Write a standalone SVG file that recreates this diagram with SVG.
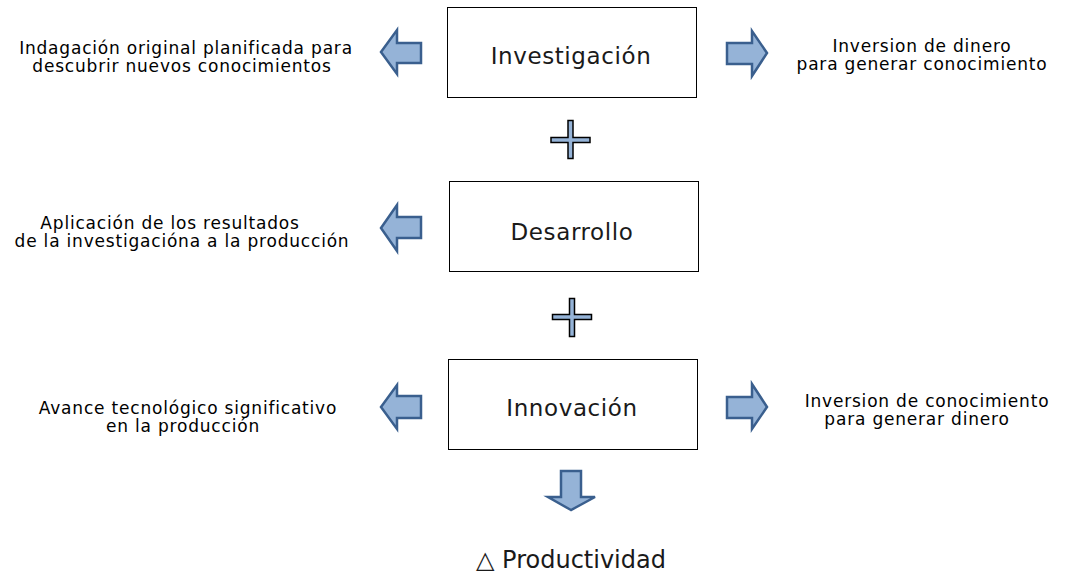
<svg xmlns="http://www.w3.org/2000/svg" width="1074" height="573" viewBox="0 0 1074 573">
<style>
.box{fill:#fff;stroke:#000;stroke-width:1}
.arr{fill:#95b3d7;stroke:#3a5f8e;stroke-width:2.5;stroke-linejoin:miter}
.plus{fill:#95b3d7;stroke:#000;stroke-width:1.5}
.lbl{font-family:"DejaVu Sans",Verdana,sans-serif;font-size:23px;letter-spacing:0.6px;fill:#1a1a1a;text-anchor:middle}
.side{font-family:"DejaVu Sans",Verdana,sans-serif;font-size:17px;letter-spacing:0.8px;fill:#000;text-anchor:middle}
.prod{font-family:"DejaVu Sans",Verdana,sans-serif;font-size:24px;fill:#1a1a1a;text-anchor:middle}
</style>
<rect width="1074" height="573" fill="#fff"/>
<g id="investigacion"><rect class="box" x="447.5" y="7.5" width="249" height="90"/><text class="lbl" x="571" y="64">Investigación</text></g>
<g id="desarrollo"><rect class="box" x="449.5" y="181.5" width="249" height="90"/><text class="lbl" x="572" y="240">Desarrollo</text></g>
<g id="innovacion"><rect class="box" x="448.5" y="359.5" width="249" height="90"/><text class="lbl" x="572" y="416">Innovación</text></g>
<g id="t1"><text class="side" x="186" y="54">Indagación original planificada para</text><text class="side" x="182" y="72">descubrir nuevos conocimientos</text></g>
<g id="t2"><text class="side" x="922" y="52">Inversion de dinero</text><text class="side" x="922" y="70">para generar conocimiento</text></g>
<g id="t3"><text class="side" x="170" y="229">Aplicación de los resultados</text><text class="side" x="182" y="247">de la investigacióna a la producción</text></g>
<g id="t4"><text class="side" x="188" y="414">Avance tecnológico significativo</text><text class="side" x="183" y="432">en la producción</text></g>
<g id="t5"><text class="side" x="927" y="407">Inversion de conocimiento</text><text class="side" x="917" y="425">para generar dinero</text></g>
<g id="productividad"><text class="prod" x="571" y="568">△ Productividad</text></g>
<g id="connectors">
<polygon class="arr" points="381,52 397,30 397,43 421,43 421,63 397,63 397,74"/>
<polygon class="arr" points="381,228 397,205 397,217 421,217 421,238 397,238 397,251"/>
<polygon class="arr" points="381,407 397,385 397,396 421,396 421,418 397,418 397,429"/>
<polygon class="arr" points="767,53 752,31 752,43 727,43 727,64 752,64 752,76"/>
<polygon class="arr" points="767,407 752,384 752,397 727,397 727,418 752,418 752,429"/>
<polygon class="arr" points="571,510 548,497 561,497 561,471 581,471 581,497 595,497"/>
<path class="plus" d="M568,120.5h5v17h17v5h-17v16h-5v-16h-17v-5h17z"/>
<path class="plus" d="M569.5,298.5h5v16h17v5h-17v17h-5v-17h-17v-5h17z"/>
</g>
</svg>
